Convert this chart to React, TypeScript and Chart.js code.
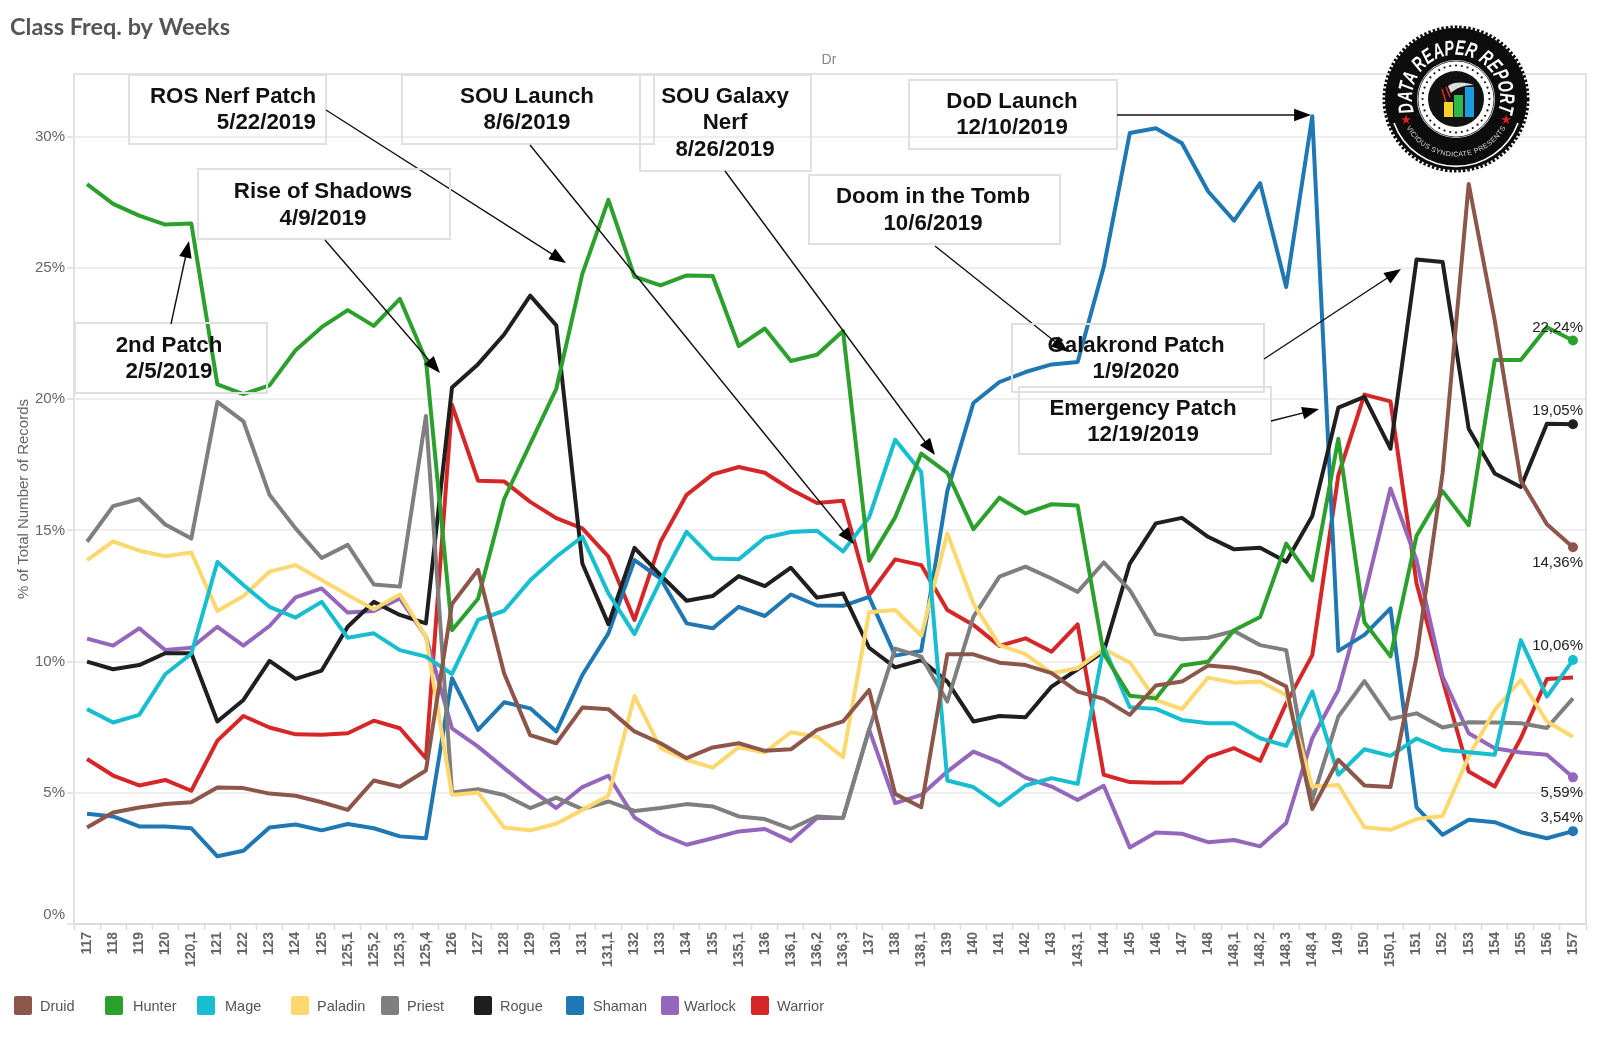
import React, { useEffect, useRef } from 'react';
import Chart from 'chart.js/auto';

const weeks = [
  '117', '118', '119', '120', '120,1', '121', '122', '123', '124', '125',
  '125,1', '125,2', '125,3', '125,4', '126', '127', '128', '129', '130', '131',
  '131,1', '132', '133', '134', '135', '135,1', '136', '136,1', '136,2', '136,3',
  '137', '138', '138,1', '139', '140', '141', '142', '143', '143,1', '144',
  '145', '146', '147', '148', '148,1', '148,2', '148,3', '148,4', '149', '150',
  '150,1', '151', '152', '153', '154', '155', '156', '157',
];

const druid = [
  3.68, 4.25, 4.44, 4.57, 4.64, 5.2, 5.18, 4.97, 4.89, 4.64,
  4.35, 5.47, 5.23, 5.85, 12.2, 13.5, 9.55, 7.2, 6.89, 8.25,
  8.19, 7.34, 6.89, 6.32, 6.73, 6.89, 6.6, 6.66, 7.4, 7.72,
  8.92, 4.96, 4.45, 10.28, 10.28, 9.96, 9.87, 9.56, 8.86, 8.58,
  7.97, 9.09, 9.24, 9.85, 9.77, 9.56, 9.05, 4.38, 6.26, 5.28,
  5.22, 10.19, 17.2, 28.21, 23.0, 16.9, 15.24, 14.36,
];
const hunter = [
  28.2, 27.45, 27.0, 26.66, 26.7, 20.57, 20.2, 20.53, 21.87, 22.75,
  23.4, 22.8, 23.83, 21.5, 11.2, 12.4, 16.2, 18.3, 20.4, 24.78,
  27.6, 24.68, 24.34, 24.72, 24.7, 22.03, 22.7, 21.46, 21.7, 22.6,
  13.85, 15.5, 17.93, 17.2, 15.05, 16.25, 15.65, 16.0, 15.95, 10.3,
  8.7, 8.6, 9.85, 10.0, 11.2, 11.7, 14.5, 13.1, 18.5, 11.5,
  10.2, 14.8, 16.5, 15.2, 21.5, 21.5, 22.75, 22.24,
];
const mage = [
  8.19, 7.68, 7.97, 9.52, 10.3, 13.8, 12.92, 12.09, 11.68, 12.28,
  10.91, 11.08, 10.44, 10.19, 9.53, 11.59, 11.94, 13.1, 14.0, 14.76,
  12.6, 11.05, 13.1, 14.95, 13.93, 13.9, 14.72, 14.94, 14.99, 14.2,
  15.5, 18.46, 17.23, 5.47, 5.22, 4.52, 5.28, 5.56, 5.34, 10.57,
  8.26, 8.2, 7.78, 7.65, 7.65, 7.08, 6.79, 8.86, 5.69, 6.66,
  6.41, 7.07, 6.64, 6.55, 6.45, 10.82, 8.67, 10.06,
];
const paladin = [
  13.87, 14.58, 14.23, 14.02, 14.16, 11.93, 12.5, 13.43, 13.68, 13.11,
  12.54, 12.0, 12.56, 10.95, 4.92, 5.01, 3.68, 3.57, 3.82, 4.35,
  4.89, 8.69, 6.7, 6.26, 5.96, 6.74, 6.54, 7.31, 7.14, 6.36,
  11.88, 11.97, 10.99, 14.89, 12.22, 10.63, 10.29, 9.56, 9.75, 10.48,
  9.97, 8.54, 8.19, 9.39, 9.2, 9.24, 8.73, 5.24, 5.3, 3.69,
  3.59, 4.0, 4.12, 6.38, 8.16, 9.3, 7.72, 7.14,
];
const priest = [
  14.57, 15.93, 16.2, 15.23, 14.69, 19.9, 19.16, 16.36, 15.08, 13.95,
  14.45, 12.94, 12.86, 19.36, 5.01, 5.14, 4.92, 4.42, 4.82, 4.38,
  4.67, 4.31, 4.42, 4.57, 4.48, 4.1, 4.0, 3.63, 4.1, 4.04,
  7.4, 10.5, 10.19, 8.48, 11.71, 13.24, 13.62, 13.17, 12.66, 13.78,
  12.73, 11.05, 10.85, 10.91, 11.17, 10.63, 10.44, 4.73, 7.91, 9.26,
  7.82, 8.03, 7.49, 7.69, 7.68, 7.65, 7.47, 8.6,
];
const rogue = [
  10.0, 9.71, 9.87, 10.32, 10.32, 7.72, 8.54, 10.03, 9.34, 9.66,
  11.33, 12.28, 11.78, 11.46, 20.45, 21.34, 22.47, 23.95, 22.82, 13.74,
  11.43, 14.34, 13.3, 12.32, 12.5, 13.26, 12.88, 13.58, 12.44, 12.6,
  10.53, 9.78, 10.06, 9.24, 7.72, 7.93, 7.88, 9.05, 9.71, 10.38,
  13.74, 15.27, 15.48, 14.76, 14.28, 14.34, 13.81, 15.55, 19.68, 20.09,
  18.12, 25.33, 25.23, 18.88, 17.17, 16.66, 19.07, 19.05,
];
const shaman = [
  4.2, 4.1, 3.72, 3.72, 3.65, 2.58, 2.79, 3.68, 3.79, 3.57,
  3.81, 3.65, 3.34, 3.27, 9.37, 7.4, 8.45, 8.22, 7.34, 9.49,
  11.08, 13.87, 13.17, 11.46, 11.27, 12.09, 11.74, 12.56, 12.14, 12.13,
  12.47, 10.23, 10.41, 16.5, 19.86, 20.66, 21.04, 21.33, 21.42, 25.04,
  30.15, 30.33, 29.76, 27.93, 26.81, 28.24, 24.28, 30.79, 10.41, 11.02,
  12.03, 4.45, 3.4, 3.97, 3.88, 3.5, 3.27, 3.54,
];
const warlock = [
  10.88, 10.61, 11.27, 10.44, 10.53, 11.33, 10.61, 11.36, 12.45, 12.79,
  11.87, 11.93, 12.41, 10.95, 7.46, 6.76, 5.94, 5.14, 4.42, 5.22,
  5.65, 4.06, 3.43, 3.02, 3.27, 3.53, 3.62, 3.16, 4.04, 4.04,
  7.42, 4.61, 4.92, 5.81, 6.57, 6.17, 5.58, 5.24, 4.73, 5.27,
  2.92, 3.49, 3.44, 3.12, 3.2, 2.96, 3.85, 7.08, 8.92, 12.5,
  16.6, 13.87, 9.43, 7.27, 6.7, 6.54, 6.45, 5.59,
];
const warrior = [
  6.29, 5.66, 5.28, 5.49, 5.08, 6.99, 7.93, 7.49, 7.23, 7.21,
  7.27, 7.75, 7.46, 6.32, 19.79, 16.9, 16.87, 16.09, 15.47, 15.08,
  14.0, 11.59, 14.57, 16.36, 17.14, 17.42, 17.2, 16.56, 16.05, 16.13,
  12.54, 13.9, 13.68, 11.97, 11.4, 10.6, 10.89, 10.38, 11.42, 5.69,
  5.41, 5.38, 5.39, 6.36, 6.7, 6.22, 8.41, 10.25, 17.1, 20.18,
  19.92, 12.98, 9.3, 5.81, 5.24, 7.08, 9.34, 9.4,
];

const classNames = ['Druid', 'Hunter', 'Mage', 'Paladin', 'Priest', 'Rogue', 'Shaman', 'Warlock', 'Warrior'];
const classSeries = [druid, hunter, mage, paladin, priest, rogue, shaman, warlock, warrior];
const classColors = ['#8c564b', '#2ca02c', '#17becf', '#fcd86f', '#7f7f7f', '#1f1f1f', '#1f77b4', '#9467bd', '#d62728'];

const legendSwatchX = [14, 105, 197, 291, 381, 474, 566, 661, 751];
const legendTextX = [40, 133, 225, 317, 407, 500, 593, 684, 777];

// labels on the last week, dy is the offset from the end point
const endLabels = [
  { name: 'Hunter', text: '22,24%', dy: -13 },
  { name: 'Rogue', text: '19,05%', dy: -13 },
  { name: 'Druid', text: '14,36%', dy: 16 },
  { name: 'Mage', text: '10,06%', dy: -14 },
  { name: 'Warlock', text: '5,59%', dy: 16 },
  { name: 'Shaman', text: '3,54%', dy: -13 },
];

const notes = [
  { box: [129, 75, 197, 69], lines: ['ROS Nerf Patch', '5/22/2019'], align: 'right', tx: 316, ty: [97, 123], arrow: [326, 110, 566, 263] },
  { box: [402, 75, 252, 69], lines: ['SOU Launch', '8/6/2019'], align: 'center', tx: 527, ty: [97, 123], arrow: [530, 145, 854, 544] },
  { box: [640, 75, 171, 96], lines: ['SOU Galaxy', 'Nerf', '8/26/2019'], align: 'center', tx: 725, ty: [97, 123, 150], arrow: [725, 171, 935, 455] },
  { box: [909, 80, 208, 69], lines: ['DoD Launch', '12/10/2019'], align: 'center', tx: 1012, ty: [102, 128], arrow: [1117, 115, 1311, 115] },
  { box: [809, 175, 251, 69], lines: ['Doom in the Tomb', '10/6/2019'], align: 'center', tx: 933, ty: [197, 224], arrow: [935, 246, 1068, 352] },
  { box: [198, 169, 252, 70], lines: ['Rise of Shadows', '4/9/2019'], align: 'center', tx: 323, ty: [192, 219], arrow: [325, 240, 440, 373] },
  { box: [75, 323, 192, 70], lines: ['2nd Patch', '2/5/2019'], align: 'center', tx: 169, ty: [346, 372], arrow: [171, 324, 189, 241] },
  { box: [1012, 324, 252, 68], lines: ['Galakrond Patch', '1/9/2020'], align: 'center', tx: 1136, ty: [346, 372], arrow: [1264, 359, 1401, 269] },
  { box: [1019, 387, 252, 67], lines: ['Emergency Patch', '12/19/2019'], align: 'center', tx: 1143, ty: [409, 435], arrow: [1271, 421, 1319, 409] },
];

const SANS = '"Liberation Sans", Arial, sans-serif';

function drawArrow(ctx: CanvasRenderingContext2D, x1: number, y1: number, x2: number, y2: number) {
  const angle = Math.atan2(y2 - y1, x2 - x1);
  ctx.strokeStyle = '#111';
  ctx.lineWidth = 1.4;
  ctx.beginPath();
  ctx.moveTo(x1, y1);
  ctx.lineTo(x2 - 10 * Math.cos(angle), y2 - 10 * Math.sin(angle));
  ctx.stroke();
  ctx.fillStyle = '#000';
  ctx.beginPath();
  ctx.moveTo(x2, y2);
  ctx.lineTo(x2 - 18 * Math.cos(angle - 0.36), y2 - 18 * Math.sin(angle - 0.36));
  ctx.lineTo(x2 - 18 * Math.cos(angle + 0.36), y2 - 18 * Math.sin(angle + 0.36));
  ctx.closePath();
  ctx.fill();
}

const framePlugin = {
  id: 'frame',
  beforeDatasetsDraw(chart: any) {
    const { ctx, chartArea: a } = chart;
    ctx.save();
    ctx.strokeStyle = '#e2e2e2';
    ctx.lineWidth = 2;
    ctx.beginPath();
    ctx.moveTo(a.left, a.top);
    ctx.lineTo(a.right, a.top);
    ctx.lineTo(a.right, a.bottom);
    ctx.stroke();
    ctx.restore();
  },
};

const overlayPlugin = {
  id: 'overlay',
  afterDatasetsDraw(chart: any) {
    const { ctx } = chart;
    ctx.save();

    // heading
    ctx.textBaseline = 'middle';
    ctx.textAlign = 'left';
    ctx.fillStyle = '#555';
    ctx.font = 'bold 23.5px Lato, sans-serif';
    ctx.fillText('Class Freq. by Weeks', 10, 27);

    ctx.fillStyle = '#888';
    ctx.font = `14px ${SANS}`;
    ctx.textAlign = 'center';
    ctx.fillText('Dr', 829, 60);

    // end of line labels
    const lastIndex = weeks.length - 1;
    ctx.textAlign = 'right';
    ctx.fillStyle = '#222';
    ctx.font = `15px ${SANS}`;
    endLabels.forEach((l) => {
      const point = chart.getDatasetMeta(classNames.indexOf(l.name)).data[lastIndex];
      ctx.fillText(l.text, 1583, point.y + l.dy);
    });

    // callouts
    notes.forEach((n) => {
      ctx.strokeStyle = '#e0e0e0';
      ctx.lineWidth = 2;
      ctx.strokeRect(n.box[0], n.box[1], n.box[2], n.box[3]);
      ctx.fillStyle = '#111';
      ctx.font = `bold 22.3px ${SANS}`;
      ctx.textAlign = n.align;
      n.lines.forEach((t, i) => ctx.fillText(t, n.tx, n.ty[i]));
      drawArrow(ctx, n.arrow[0], n.arrow[1], n.arrow[2], n.arrow[3]);
    });

    // legend
    ctx.textAlign = 'left';
    ctx.font = `14.5px ${SANS}`;
    chart.data.datasets.forEach((ds: any, i: number) => {
      ctx.fillStyle = ds.borderColor;
      ctx.beginPath();
      ctx.roundRect(legendSwatchX[i], 996, 18, 19, 2);
      ctx.fill();
      ctx.fillStyle = '#555';
      ctx.fillText(ds.label, legendTextX[i], 1007);
    });
    ctx.restore();
  },
};

function Logo() {
  const dots = [];
  for (let i = 0; i < 36; i++) {
    const a = (i * Math.PI) / 18;
    dots.push(<circle key={i} cx={33.5 * Math.cos(a)} cy={33.5 * Math.sin(a)} r={1.1} fill="#111" />);
  }
  return (
    <svg width={160} height={160} viewBox="-80 -80 160 160" style={{ position: 'absolute', left: 1376, top: 19 }}>
      <defs>
        <path id="logoTop" d="M -40 18 A 44 44 0 1 1 40 18" />
        <path id="logoBottom" d="M -50 28 A 57 57 0 0 0 50 28" />
      </defs>
      <circle r={71} fill="#0c0c0c" />
      <circle r={72} fill="none" stroke="#0c0c0c" strokeWidth={3} strokeDasharray="2.5 2" />
      <path d="M -62 24 A 66 66 0 0 0 62 24" fill="none" stroke="#fff" strokeWidth={1.6} />
      <text fill="#fff" fontFamily={SANS} fontWeight="bold" fontStyle="italic" fontSize={21}>
        <textPath href="#logoTop" startOffset="50%" textAnchor="middle" textLength={165} lengthAdjust="spacingAndGlyphs">
          DATA REAPER REPORT
        </textPath>
      </text>
      <text fill="#ddd" fontFamily={SANS} fontSize={7} letterSpacing={0.4}>
        <textPath href="#logoBottom" startOffset="50%" textAnchor="middle">
          VICIOUS SYNDICATE PRESENTS
        </textPath>
      </text>
      <text x={-50} y={25} fill="#e02020" fontSize={13} textAnchor="middle" fontFamily="DejaVu Sans">★</text>
      <text x={50} y={25} fill="#e02020" fontSize={13} textAnchor="middle" fontFamily="DejaVu Sans">★</text>
      <circle r={39} fill="#fff" />
      <circle r={38} fill="none" stroke="#111" strokeWidth={0.8} />
      {dots}
      <circle r={28} fill="#111" />
      <path d="M -8 -13 C -2 -18 10 -17 18 -14 C 8 -14 0 -11 -5 -6 Z" fill="#ddd" />
      <path d="M -14 -10 L -8 10 M -10 -12 L -6 -2" stroke="#d62728" strokeWidth={1.6} fill="none" />
      <rect x={-12} y={3} width={9} height={15} fill="#f5d327" />
      <rect x={-2} y={-4} width={9} height={22} fill="#2fb84a" />
      <rect x={9} y={-12} width={9} height={30} fill="#1b9be0" />
    </svg>
  );
}

export default function App() {
  const chartRef = useRef<HTMLCanvasElement>(null);
  const chartInstance = useRef<Chart | null>(null);

  useEffect(() => {
    if (!chartRef.current) return;
    if (chartInstance.current) chartInstance.current.destroy();

    const lastIndex = weeks.length - 1;
    const withDot = endLabels.map((l) => l.name);

    chartInstance.current = new Chart(chartRef.current, {
      type: 'line',
      data: {
        labels: weeks,
        datasets: classNames.map((name, i) => ({
          label: name,
          data: classSeries[i],
          borderColor: classColors[i],
          backgroundColor: classColors[i],
          borderWidth: 4,
          borderJoinStyle: 'round',
          tension: 0,
          fill: false,
          pointBorderWidth: 0,
          pointRadius: (c: any) => (c.dataIndex === lastIndex && withDot.includes(name) ? 5 : 0),
        })),
      },
      options: {
        responsive: false,
        devicePixelRatio: 1,
        animation: false,
        layout: { padding: { top: 74, right: 14, left: 0, bottom: 0 } },
        plugins: { legend: { display: false }, tooltip: { enabled: false } },
        scales: {
          x: {
            offset: true,
            afterFit: (s: any) => { s.height = 116; },
            border: { color: '#dcdcdc', width: 2 },
            grid: { offset: true, drawOnChartArea: false, tickLength: 6, tickColor: '#dcdcdc', tickWidth: 1.5 },
            ticks: {
              autoSkip: false,
              maxRotation: 90,
              minRotation: 90,
              padding: 2,
              color: '#666',
              font: { family: SANS, size: 14, weight: 'bold' },
            },
          },
          y: {
            min: 0,
            max: 32.4,
            afterFit: (s: any) => { s.width = 74; },
            border: { color: '#e2e2e2', width: 2 },
            grid: { color: '#eeeeee', lineWidth: 2, tickLength: 7, tickColor: '#dcdcdc', tickWidth: 1.5 },
            title: {
              display: true,
              text: '% of Total Number of Records',
              color: '#666',
              font: { family: SANS, size: 15 },
              padding: { top: 15, bottom: 0 },
            },
            ticks: {
              stepSize: 5,
              includeBounds: false,
              padding: 2,
              color: '#666',
              font: { family: SANS, size: 15 },
              // the zero label sits a little above its tick
              callback: (v: any) => (v === 0 ? ['0%', ''] : `${v}%`),
            },
          },
        },
      },
      plugins: [framePlugin, overlayPlugin],
    } as any);

    return () => {
      if (chartInstance.current) chartInstance.current.destroy();
    };
  }, []);

  return (
    <div style={{ position: 'absolute', left: 0, top: 0, width: 1600, height: 1040, background: '#fff' }}>
      <canvas ref={chartRef} width={1600} height={1040} style={{ display: 'block' }} />
      <Logo />
    </div>
  );
}
